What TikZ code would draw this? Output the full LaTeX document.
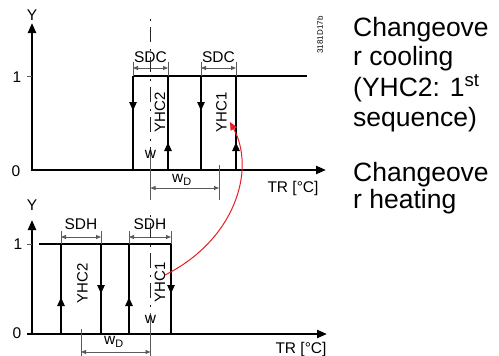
\documentclass[tikz,border=0pt]{standalone}
\usepackage{fontspec}
\setmainfont{Liberation Sans}
\usetikzlibrary{arrows.meta}
\definecolor{redc}{RGB}{230,30,36}
\definecolor{dimc}{RGB}{90,90,90}
\begin{document}
\begin{tikzpicture}[x=1pt,y=-1pt,
  thickline/.style={line width=2.4pt},
  axis/.style={line width=2.2pt,-{Triangle[length=10pt,width=8pt]}},
  dim/.style={draw=dimc,line width=0.9pt,{Triangle[length=5pt,width=4pt]}-{Triangle[length=5pt,width=4pt]}},
  dimtick/.style={draw=dimc,line width=0.9pt},
  wline/.style={draw=black!85,line width=0.9pt,dash pattern=on 1.5pt off 6.5pt on 15pt off 7pt},
  flow/.style={line width=2.4pt,-{Triangle[length=9pt,width=7pt]}},
  lbl/.style={font=\fontsize{15.5}{18}\selectfont,inner sep=0pt},
  sig/.style={font=\fontsize{15}{17}\selectfont,inner sep=0pt,rotate=90},
  note/.style={font=\fontsize{26.5}{30}\selectfont,inner sep=0pt,anchor=base west},
  link/.style={draw=redc,line width=1pt,-{Triangle[length=8pt,width=7pt]}},
]
\useasboundingbox (0,0) rectangle (499,356);

% ---------- top diagram ----------
\draw[axis] (32,171) -- (32,23);
\draw[axis] (32,170) -- (326,170);
\node[lbl] (Y1) at (32,15) {Y};
\node[lbl] (one1) at (17,77) {1};
\node[lbl] (zero1) at (16,171) {0};
\draw[dimtick] (27,76) -- (32,76);

\draw[thickline] (133,76) -- (307,76);
\foreach \xx in {133,168,201,236} {\draw[thickline] (\xx,76) -- (\xx,170);}
\draw[flow] (133,101) -- (133,111);
\draw[flow] (201,101) -- (201,111);
\draw[flow] (168,152) -- (168,142);
\draw[flow] (236,152) -- (236,142);

\foreach \xx in {133,168,201,236} {\draw[dimtick] (\xx,62) -- (\xx,76);}
\draw[dim] (133,68) -- (168,68);
\draw[dim] (201,68) -- (236,68);
\node[lbl] (sdc1) at (150.5,57) {SDC};
\node[lbl] (sdc2) at (218.5,57) {SDC};

\draw[wline] (150.5,19) -- (150.5,150);
\draw[dimtick] (150.5,150) -- (150.5,200);
\node[lbl] (w1) at (150.5,154) {w};
\draw[dimtick] (219,165) -- (219,200);
\draw[dim] (150.5,188) -- (219,188);
\node[lbl] (wd1) at (182,180) {w\textsubscript{D}};

\node[sig] (yhc2a) at (160,112.5) {YHC2};
\node[sig] (yhc1a) at (221.5,112.5) {YHC1};
\node[lbl] (tr1) at (293,188) {TR [°C]};

% ---------- bottom diagram ----------
\draw[axis] (32,335) -- (32,220);
\draw[axis] (27,334) -- (327,334);
\node[lbl] (Y2) at (32,205) {Y};
\node[lbl] (one2) at (18,244) {1};
\node[lbl] (zero2) at (17,333) {0};
\draw[dimtick] (27,244) -- (32,244);

\draw[thickline] (39,244) -- (171,244);
\foreach \xx in {61,101,129,171} {\draw[thickline] (\xx,244) -- (\xx,334);}
\draw[flow] (61,307) -- (61,297);
\draw[flow] (129,307) -- (129,297);
\draw[flow] (101,284) -- (101,294);
\draw[flow] (171,284) -- (171,294);

\foreach \xx in {61,101,129,171} {\draw[dimtick] (\xx,231) -- (\xx,244);}
\draw[dim] (61,237) -- (101,237);
\draw[dim] (129,237) -- (171,237);
\node[lbl] (sdh1) at (81,224) {SDH};
\node[lbl] (sdh2) at (150,224) {SDH};

\draw[wline] (150.5,215) -- (150.5,313);
\draw[dimtick] (150.5,313) -- (150.5,356);
\node[lbl] (w2) at (150.5,319) {w};
\draw[dimtick] (81,329) -- (81,356);
\draw[dim] (81,352) -- (150.5,352);
\node[lbl] (wd2) at (114,342) {w\textsubscript{D}};

\node[sig] (yhc2b) at (82.5,283) {YHC2};
\node[sig] (yhc1b) at (160,282) {YHC1};
\node[lbl] (tr2) at (301,349) {TR [°C]};

% ---------- link ----------
\coordinate (rs) at (165,275);
\coordinate (re) at (230,122);
\draw[link] (rs) .. controls (235,240) and (256,170) .. (re);

% ---------- code and notes ----------
\node[font=\fontsize{8}{9}\selectfont,rotate=90,inner sep=0pt] (code) at (320,35) {3181D17b};
\node[note] (n1) at (353,37) {Changeove};
\node[note] (n2) at (353,65) {r cooling};
\node[note] (n3) at (353,96) {(YHC2: 1\textsuperscript{st}};
\node[note] (n4) at (353,126) {sequence)};
\node[note] (n5) at (353,181) {Changeove};
\node[note] (n6) at (353,208) {r heating};
\end{tikzpicture}
\end{document}
